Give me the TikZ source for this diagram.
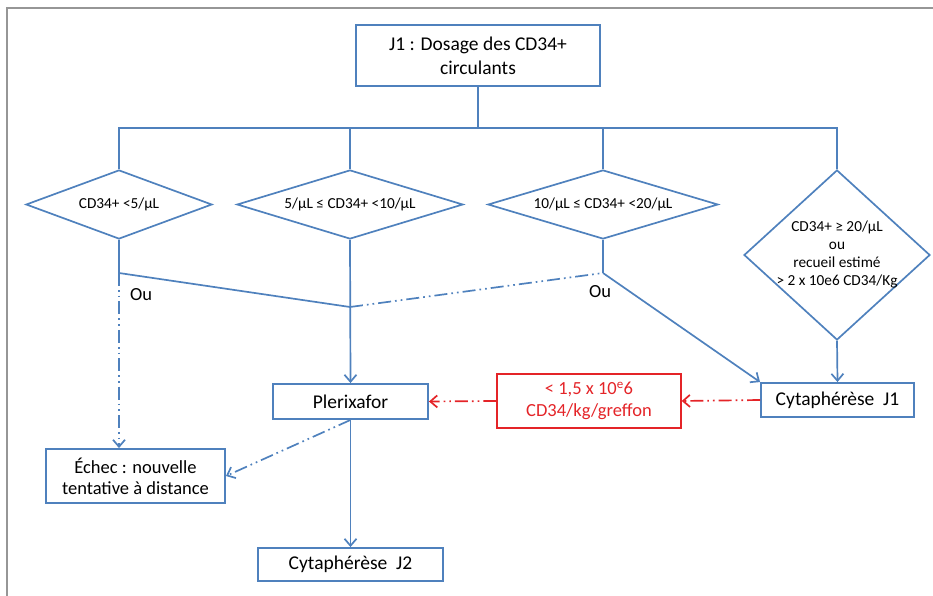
\documentclass[tikz,border=0pt]{standalone}
\usepackage{fontspec}
\setmainfont{Carlito}
\usetikzlibrary{arrows.meta,shapes.geometric}
\definecolor{bl}{RGB}{79,129,189}
\definecolor{rd}{RGB}{228,36,40}
\definecolor{fr}{RGB}{150,150,150}
\begin{document}
\begin{tikzpicture}[x=1pt,y=-1pt,
 box/.style={draw=bl, line width=1.9pt, inner sep=0pt, align=center, font=\fontsize{19.5}{24}\selectfont},
 redbox/.style={box, draw=rd, text=rd, line width=1.3pt, font=\fontsize{18.5}{22}\selectfont},
 dia/.style={draw=bl, line width=1.7pt, diamond, inner sep=0pt},
 dtext/.style={align=center, font=\fontsize{15.3}{18}\selectfont},
 lbl/.style={font=\fontsize{18.5}{22}\selectfont},
 conn/.style={draw=bl, line width=1.7pt},
 arr/.style={conn, -{Straight Barb[length=7pt,width=12pt]}},
 ddot/.style={dash pattern=on 13pt off 4pt on 1.7pt off 4pt on 1.7pt off 4pt},
 redarr/.style={draw=rd, line width=1.7pt, ddot, -{Straight Barb[length=7pt,width=12pt]}},
 ]
\useasboundingbox (0,0) rectangle (933,596);
% frame
\draw[fr, line width=2.2pt] (7,596) -- (7,8) -- (933,8);

% boxes
\node[box, minimum width=244pt, minimum height=61pt] (top) at (478,55.5) {J1 : Dosage des CD34+\\circulants};
\node[box, minimum width=155pt, minimum height=35pt] (plx) at (350.5,401.5) {Plerixafor};
\node[box, minimum width=185pt, minimum height=33pt] (j2) at (350.5,564.5) {Cytaphérèse\ \ J2};
\node[box, minimum width=179pt, minimum height=54pt, font=\fontsize{18.5}{21}\selectfont] (echec) at (135.5,476) {Échec : nouvelle\\tentative à distance};
\node[redbox, minimum width=184pt, minimum height=54pt] (red) at (589,401) {< 1,5 x 10\textsuperscript{e}6\\CD34/kg/greffon};
\node[box, minimum width=153pt, minimum height=34pt] (j1) at (837.5,400) {Cytaphérèse\ \ J1};

% diamonds
\node[dia, minimum width=186pt, minimum height=69pt] (d1) at (119,204.5) {};
\node[dtext] at (d1) {CD34+ <5/µL};
\node[dia, minimum width=226pt, minimum height=69pt] (d2) at (350,204.5) {};
\node[dtext] at (d2) {5/µL ≤ CD34+ <10/µL};
\node[dia, minimum width=230pt, minimum height=69pt] (d3) at (603,204.5) {};
\node[dtext] at (d3) {10/µL ≤ CD34+ <20/µL};
\node[dia, minimum width=186pt, minimum height=170pt] (d4) at (837,255) {};
\node[dtext] at (d4) {CD34+ ≥ 20/µL\\ou\\recueil estimé\\> 2 x 10e6 CD34/Kg};

% bus
\coordinate (busc) at (478,128);
\draw[conn] (top.south) -- (busc);
\draw[conn] (d1.north) -- (d1.north |- busc) -- (d4.north |- busc) -- (d4.north);
\draw[conn] (d2.north) -- (d2.north |- busc);
\draw[conn] (d3.north) -- (d3.north |- busc);

% junctions
\coordinate (ja) at (119,273);
\coordinate (jb) at (350,307);
\coordinate (jc) at (603,273);
\node[lbl] (ou1) at (141,295) {Ou};
\node[lbl] (ou2) at (600,292) {Ou};

\draw[conn] (d1.south) -- (ja) -- (jb);
\draw[conn] (d3.south) -- (jc);
\draw[conn, ddot] (jb) -- (jc);
\draw[arr, ddot] (ja) -- (echec.north -| ja);
\draw[arr] (d2.south) -- (plx.north);
\draw[arr] (jc) -- (j1.north west);
\draw[arr] (d4.south) -- (j1.north);
\draw[arr] (plx.south) -- (j2.north);
\draw[arr, ddot] (plx.south) -- (echec.east);
\draw[redarr] (j1.west) -- (red.east);
\draw[redarr] (red.west) -- (plx.east);
\end{tikzpicture}
\end{document}
